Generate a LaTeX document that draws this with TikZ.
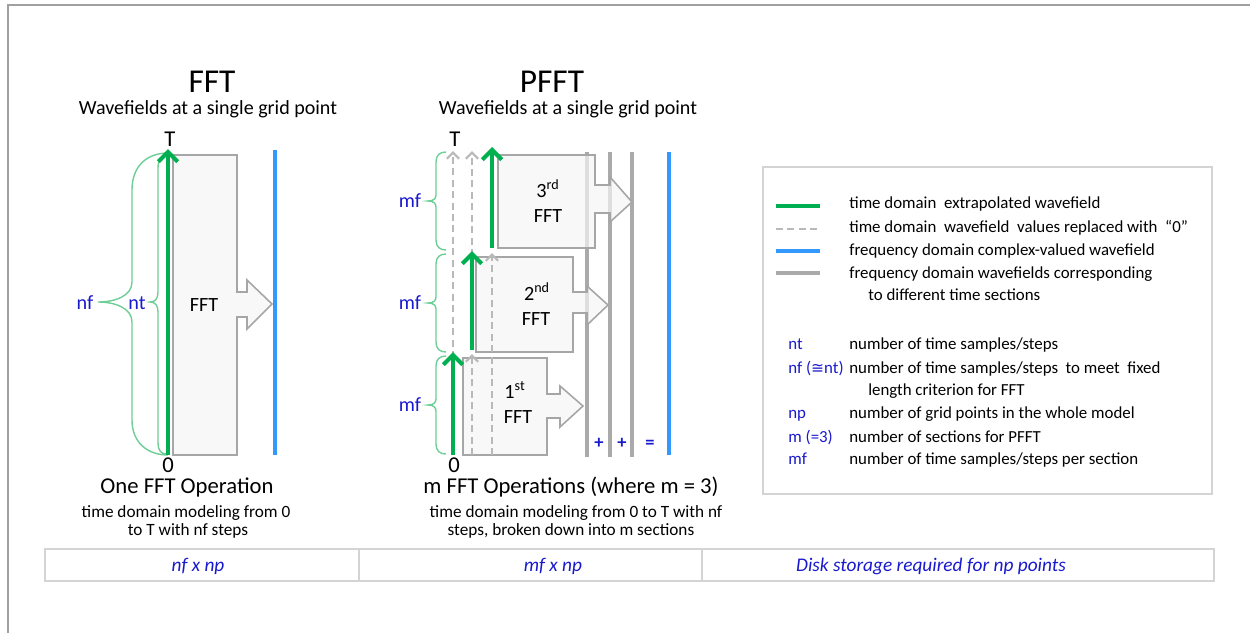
\documentclass[tikz,border=0pt]{standalone}
\usepackage{fontspec}
\setmainfont{Carlito}
\newfontfamily\dejavu{DejaVu Sans}
\usetikzlibrary{arrows.meta}
\definecolor{cgreen}{RGB}{0,176,80}
\definecolor{lgreen}{RGB}{110,206,150}
\definecolor{cblue}{RGB}{51,153,255}
\definecolor{lblue}{RGB}{25,25,205}
\definecolor{cgray}{RGB}{170,170,170}
\definecolor{bgray}{RGB}{166,166,166}
\definecolor{bfill}{RGB}{245,245,245}
\definecolor{dgray}{RGB}{185,185,185}
\definecolor{framegray}{RGB}{160,160,160}
\definecolor{boxgray}{RGB}{212,212,212}
\begin{document}
\begin{tikzpicture}[x=0.02cm,y=-0.02cm,
  title/.style={font=\fontsize{19}{22}\selectfont, anchor=base, inner sep=0},
  sub/.style={font=\fontsize{11.4}{13}\selectfont, anchor=base, inner sep=0},
  capt/.style={font=\fontsize{12.9}{15}\selectfont, anchor=base, inner sep=0},
  small/.style={font=\fontsize{9.8}{11}\selectfont, anchor=base, inner sep=0},
  inbox/.style={font=\fontsize{11.5}{13}\selectfont, anchor=base, inner sep=0},
  lbl/.style={font=\fontsize{11.5}{13}\selectfont, text=lblue, anchor=base, inner sep=0},
  opl/.style={font=\fontsize{10.5}{12}\selectfont\bfseries, text=lblue, anchor=base, inner sep=0},
  legtxt/.style={font=\fontsize{9.6}{11}\selectfont, anchor=base west, inner sep=0},
  legsym/.style={font=\fontsize{9.6}{11}\selectfont, text=lblue, anchor=base west, inner sep=0},
  tabtxt/.style={font=\fontsize{11}{13}\selectfont\itshape, text=lblue, anchor=base, inner sep=0},
  garrow/.style={draw=cgreen, line width=2.4pt, -{Straight Barb[length=5.5pt,width=11pt]}},
  darrow/.style={draw=dgray, line width=1.3pt, dash pattern=on 4pt off 2.5pt, -{Straight Barb[length=3.5pt,width=7pt]}},
  dline/.style={draw=dgray, line width=1.5pt, dash pattern=on 4pt off 2.5pt},
  fline/.style={draw=cgray, line width=2.8pt},
  bline/.style={draw=cblue, line width=2.8pt},
  gline/.style={draw=cgreen, line width=2.4pt},
  brace/.style={draw=lgreen, line width=0.8pt},
  fftbox/.style={draw=bgray, fill=bfill, fill opacity=0.7, line width=0.9pt}
]
\useasboundingbox (0,0) rectangle (1250,633);
% outer frame
\coordinate (fA) at (8,633);
\coordinate (fB) at (8,5);
\coordinate (fC) at (1250,5);
\draw[framegray, line width=0.6pt] (fA) -- (fB) -- (fC);

% ===== FFT panel =====
\node[title] (t1) at (212,92) {FFT};
\node[sub] (s1) at (208,114) {Wavefields at a single grid point};
\node[capt] (T1) at (170,146) {T};
\node[capt] (O1) at (168,472) {0};
% braces
\draw[brace] (168,153) .. controls (148,153) and (132,165) .. (132,190) -- (132,282)
  .. controls (132,296) and (115,302) .. (98,302)
  .. controls (115,302) and (132,308) .. (132,322) -- (132,420)
  .. controls (132,443) and (148,455) .. (168,455);
\draw[brace] (166,156) .. controls (161,156) and (158,160) .. (158,168) -- (158,292)
  .. controls (158,299) and (155,302) .. (150,302)
  .. controls (155,302) and (158,305) .. (158,312) -- (158,443)
  .. controls (158,450) and (161,454) .. (166,454);
\node[lbl] (nf) at (85,309) {nf};
\node[lbl] (nt) at (137,309) {nt};
% box
\draw[fftbox] (173,155) -- (237,155) -- (237,292) -- (247,292) -- (247,280) -- (272,304)
  -- (247,329) -- (247,317) -- (237,317) -- (237,455) -- (173,455) -- cycle;
\node[inbox] (fft1) at (204,311) {FFT};
\coordinate (b1t) at (275,150);
\coordinate (b1b) at (275,455);
\draw[bline] (b1b) -- (b1t);
\coordinate (g1b) at (168,455);
\coordinate (g1t) at (168,149);
\draw[garrow] (g1b) -- (g1t);
\node[capt] (op1) at (187,493) {One FFT Operation};
\node[small] (d1a) at (186,517) {time domain modeling from 0};
\node[small] (d1b) at (188,535) {to T with nf steps};

% ===== PFFT panel =====
\node[title] (t2) at (552,92) {PFFT};
\node[sub] (s2) at (568,114) {Wavefields at a single grid point};
\node[capt] (T2) at (455,146) {T};
\node[capt] (O2) at (454,472) {0};
% mf braces
\foreach \yt/\yb in {152/250, 254/352, 356/454}{
  \pgfmathsetmacro\ym{(\yt+\yb)/2}
  \draw[brace] (446,\yt) .. controls (440,\yt) and (436,\yt+3) .. (436,\yt+10) -- (436,\ym-6)
    .. controls (436,\ym-2) and (433,\ym) .. (428,\ym)
    .. controls (433,\ym) and (436,\ym+2) .. (436,\ym+6) -- (436,\yb-10)
    .. controls (436,\yb-3) and (440,\yb) .. (446,\yb);
  \node[lbl] at (410,\ym+6) {mf};
}
% frequency lines
\foreach \xx in {587,610,632}{
  \draw[fline] (\xx,152) -- (\xx,457);
}
\draw[bline] (669,152) -- (669,455);
% boxes
\draw[fftbox] (463,358) -- (547,358) -- (547,394) -- (560,394) -- (560,386) -- (583,406)
  -- (560,427) -- (560,418) -- (547,418) -- (547,455) -- (463,455) -- cycle;
\draw[fftbox] (476,257) -- (573,257) -- (573,292) -- (587,292) -- (587,286) -- (608,305)
  -- (587,325) -- (587,313) -- (573,313) -- (573,352) -- (476,352) -- cycle;
\draw[fftbox] (498,155) -- (595,155) -- (595,185) -- (610,185) -- (610,177) -- (632,202)
  -- (610,222) -- (610,213) -- (595,213) -- (595,248) -- (498,248) -- cycle;
\node[inbox] (n1a) at (515,398) {1\textsuperscript{st}};
\node[inbox] (n1b) at (518,423) {FFT};
\node[inbox] (n2a) at (537,300) {2\textsuperscript{nd}};
\node[inbox] (n2b) at (536,325) {FFT};
\node[inbox] (n3a) at (548,197) {3\textsuperscript{rd}};
\node[inbox] (n3b) at (548,222) {FFT};
% time columns
\draw[darrow] (453,358) -- (453,151);
\draw[garrow] (453,455) -- (453,352);
\draw[darrow] (472,455) -- (472,354);
\draw[darrow] (472,256) -- (472,151);
\draw[garrow] (472,350) -- (472,251);
\draw[darrow] (492,455) -- (492,253);
\draw[garrow] (492,248) -- (492,147);
% operators
\node[opl] (p1) at (599,448) {+};
\node[opl] (p2) at (622,448) {+};
\node[opl] (eq) at (650,448) {=};
\node[capt] (op2) at (571,493) {m FFT Operations (where m = 3)};
\node[small] (d2a) at (576,517) {time domain modeling from 0 to T with nf};
\node[small] (d2b) at (571,535) {steps, broken down into m sections};

% ===== legend =====
\draw[boxgray, line width=1.2pt] (763,167) rectangle (1212,494);
\draw[gline] (776,206) -- (820,206);
\draw[dline] (776,229) -- (820,229);
\draw[bline] (776,251) -- (820,251);
\draw[fline] (776,273) -- (820,273);
\node[legtxt] (l1) at (849,208) {time domain\ \ extrapolated wavefield};
\node[legtxt] (l2) at (849,232) {time domain\ \ wavefield\ \ values replaced with\ \ “0”};
\node[legtxt] (l3) at (849,255) {frequency domain complex-valued\ wavefield};
\node[legtxt] (l4) at (849,278) {frequency domain wavefields corresponding};
\node[legtxt] (l5) at (868,300) {to different time\ sections};
\node[legsym] (k1) at (788,349) {nt};
\node[legtxt] (v1) at (849,349) {number of time samples/steps};
\node[legsym] (k2) at (788,373) {nf ({\dejavu\fontsize{8.8}{10}\selectfont ≅}nt)};
\node[legtxt] (v2) at (849,373) {number of time samples/steps\ \ to meet\ \ fixed};
\node[legtxt] (v2b) at (868,395) {length criterion for FFT};
\node[legsym] (k3) at (788,418) {np};
\node[legtxt] (v3) at (849,418) {number of grid points in the whole model};
\node[legsym] (k4) at (788,442) {m (=3)};
\node[legtxt] (v4) at (849,442) {number of sections for PFFT};
\node[legsym] (k5) at (788,464) {mf};
\node[legtxt] (v5) at (849,464) {number of time samples/steps per section};

% ===== table =====
\draw[boxgray, line width=1.5pt] (45,549) rectangle (1214,581);
\draw[boxgray, line width=0.6pt] (359,549) -- (359,581);
\draw[boxgray, line width=0.6pt] (702,549) -- (702,581);
\node[tabtxt] (r1) at (198,571) {nf x np};
\node[tabtxt] (r2) at (553,571) {mf x np};
\node[tabtxt] (r3) at (931,571) {Disk storage required for np points};
\end{tikzpicture}
\end{document}
